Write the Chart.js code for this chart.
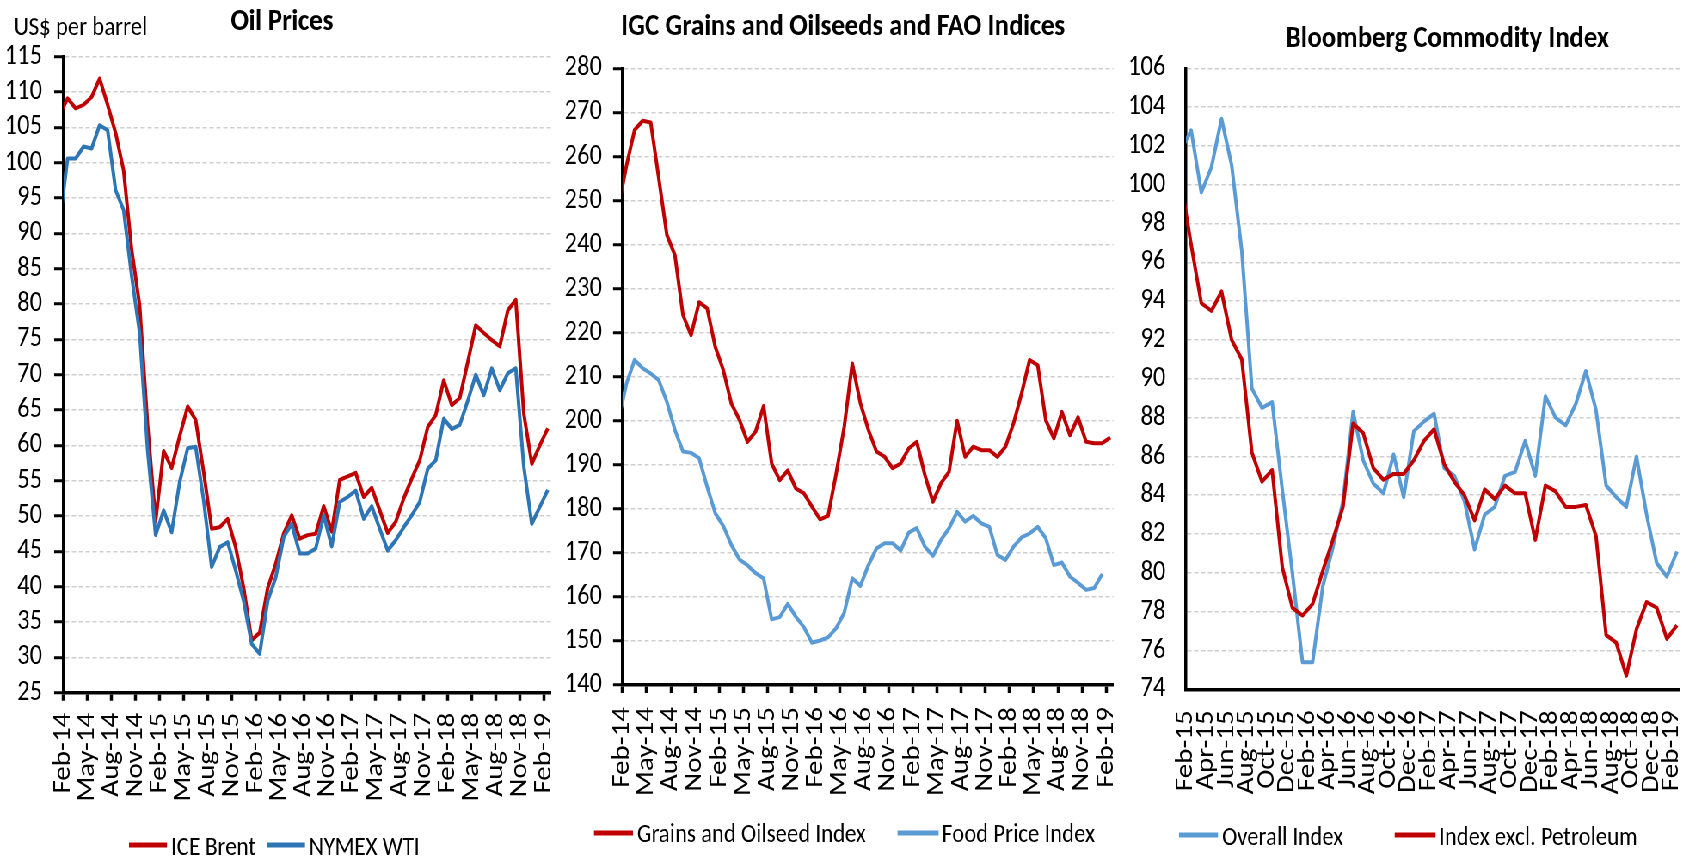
<!DOCTYPE html>
<html>
<head>
<meta charset="utf-8">
<script src="https://cdn.jsdelivr.net/npm/chart.js@4.4.1/dist/chart.umd.min.js"></script>
<style>
  html, body { margin: 0; padding: 0; background: #fff; }
  body { width: 1702px; height: 859px; position: relative; overflow: hidden; }
  /* the original figure is a horizontally squeezed export, so draw wide and squeeze */
  #wrap { position: absolute; left: 0; top: 0; width: 1979px; height: 859px; transform: scaleX(0.86); transform-origin: 0 0; }
  canvas { position: absolute; top: 0; }
</style>
</head>
<body>
<div id="wrap">
  <canvas id="oil" width="651" height="859" style="left:0px;width:651px;height:859px"></canvas>
  <canvas id="grains" width="657" height="859" style="left:651px;width:657px;height:859px"></canvas>
  <canvas id="bcom" width="671" height="859" style="left:1308px;width:671px;height:859px"></canvas>
</div>
<script>
// ---- data (monthly, first entry is the month before the first tick) ----
const oilMonths = ('Jan-14 Feb-14 Mar-14 Apr-14 May-14 Jun-14 Jul-14 Aug-14 Sep-14 Oct-14 Nov-14 Dec-14 ' +
  'Jan-15 Feb-15 Mar-15 Apr-15 May-15 Jun-15 Jul-15 Aug-15 Sep-15 Oct-15 Nov-15 Dec-15 ' +
  'Jan-16 Feb-16 Mar-16 Apr-16 May-16 Jun-16 Jul-16 Aug-16 Sep-16 Oct-16 Nov-16 Dec-16 ' +
  'Jan-17 Feb-17 Mar-17 Apr-17 May-17 Jun-17 Jul-17 Aug-17 Sep-17 Oct-17 Nov-17 Dec-17 ' +
  'Jan-18 Feb-18 Mar-18 Apr-18 May-18 Jun-18 Jul-18 Aug-18 Sep-18 Oct-18 Nov-18 Dec-18 ' +
  'Jan-19 Feb-19').split(' ');

const iceBrent = [
  106.8, 109.1, 107.7, 108.2, 109.3, 111.9, 108.2, 104.2, 98.9, 87.7, 79.8, 62.8,
  49.3, 59.2, 56.8, 61.3, 65.5, 63.6, 56.2, 48.2, 48.4, 49.6, 45.6, 39.8,
  32.4, 33.5, 39.8, 43.2, 47.5, 50.1, 46.8, 47.3, 47.5, 51.4, 47.8, 55.1,
  55.6, 56.1, 52.7, 54.0, 50.8, 47.6, 49.2, 52.5, 55.3, 57.9, 62.6, 64.3,
  69.2, 65.7, 66.7, 71.8, 77.0, 75.9, 74.9, 74.0, 79.1, 80.6, 64.5, 57.4,
  60.0, 62.4
];
const nymexWti = [
  91.5, 100.6, 100.6, 102.3, 102.0, 105.3, 104.6, 96.1, 93.3, 84.0, 75.9, 59.3,
  47.3, 50.8, 47.7, 54.8, 59.6, 59.8, 52.2, 42.8, 45.6, 46.3, 42.3, 38.0,
  31.9, 30.5, 38.0, 41.3, 47.0, 48.9, 44.7, 44.7, 45.4, 50.1, 45.7, 52.0,
  52.7, 53.6, 49.6, 51.4, 48.2, 45.1, 46.6, 48.4, 50.1, 52.0, 56.7, 57.9,
  63.8, 62.3, 62.9, 66.3, 70.0, 67.1, 70.9, 67.8, 70.2, 70.9, 57.0, 48.9,
  51.3, 53.7
];

const grainsOilseed = [
  248.5, 258.0, 266.0, 268.1, 267.7, 255.0, 242.2, 237.6, 224.0, 219.4, 226.9, 225.5,
  216.8, 211.5, 203.9, 200.2, 195.2, 197.5, 203.3, 190.3, 186.5, 188.7, 184.6, 183.5,
  180.5, 177.6, 178.4, 188.0, 198.6, 213.0, 204.0, 197.9, 193.0, 191.8, 189.2, 190.3,
  193.7, 195.2, 187.7, 181.6, 185.8, 188.4, 200.0, 191.8, 194.1, 193.3, 193.3, 191.8,
  194.1, 199.4, 206.2, 213.8, 212.6, 200.1, 196.0, 202.0, 196.7, 200.8, 195.2, 194.9,
  194.9, 196.2
];
const foodPrice = [
  200.1, 208.5, 213.8, 211.9, 210.7, 209.2, 204.3, 197.9, 193.0, 192.7, 191.5, 185.0,
  179.0, 176.1, 171.8, 168.5, 167.2, 165.4, 164.2, 154.9, 155.4, 158.4, 155.5, 153.1,
  149.6, 150.1, 150.8, 152.9, 156.4, 164.2, 162.5, 167.2, 171.0, 172.2, 172.2, 170.5,
  174.6, 175.6, 171.4, 169.3, 172.9, 175.6, 179.3, 177.1, 178.4, 176.7, 175.9, 169.5,
  168.4, 171.4, 173.5, 174.4, 175.9, 173.3, 167.2, 167.8, 164.6, 163.2, 161.6, 162.0,
  165.2
];

const bcomMonths = oilMonths.slice(12);
const bcomOverall = [
  101.8, 102.8, 99.6, 100.9, 103.4, 101.0, 96.6, 89.5, 88.5, 88.8, 84.3, 80.0,
  75.4, 75.4, 79.3, 81.3, 83.7, 88.3, 85.8, 84.6, 84.1, 86.1, 83.9, 87.3,
  87.8, 88.2, 85.4, 85.0, 83.7, 81.2, 83.0, 83.4, 85.0, 85.2, 86.8, 85.0,
  89.1, 88.0, 87.6, 88.7, 90.4, 88.4, 84.5, 83.9, 83.4, 86.0, 83.0, 80.5,
  79.8, 81.1
];
const bcomExPetroleum = [
  100.1, 96.9, 93.9, 93.5, 94.5, 92.0, 91.0, 86.2, 84.7, 85.3, 80.3, 78.2,
  77.8, 78.4, 80.1, 81.7, 83.4, 87.7, 87.2, 85.4, 84.8, 85.1, 85.1, 85.8,
  86.8, 87.4, 85.6, 84.7, 84.0, 82.7, 84.3, 83.8, 84.5, 84.1, 84.1, 81.7,
  84.5, 84.2, 83.4, 83.4, 83.5, 81.9, 76.8, 76.4, 74.7, 77.1, 78.5, 78.2,
  76.6, 77.3
];

// tick labels
const quarterTicks = ['Feb-14', 'May-14', 'Aug-14', 'Nov-14', 'Feb-15', 'May-15', 'Aug-15', 'Nov-15',
  'Feb-16', 'May-16', 'Aug-16', 'Nov-16', 'Feb-17', 'May-17', 'Aug-17', 'Nov-17',
  'Feb-18', 'May-18', 'Aug-18', 'Nov-18', 'Feb-19'];
const bimonthTicks = ['Feb-15', 'Apr-15', 'Jun-15', 'Aug-15', 'Oct-15', 'Dec-15', 'Feb-16', 'Apr-16',
  'Jun-16', 'Aug-16', 'Oct-16', 'Dec-16', 'Feb-17', 'Apr-17', 'Jun-17', 'Aug-17', 'Oct-17', 'Dec-17',
  'Feb-18', 'Apr-18', 'Jun-18', 'Aug-18', 'Oct-18', 'Dec-18', 'Feb-19'];

// ---- styling ----
const S = 0.86; // horizontal squeeze applied to #wrap
const FONT = 'Carlito, Calibri, "Liberation Sans", sans-serif';
const RED = '#C00000';
const BLUE_DARK = '#2E75B6';
const BLUE_LIGHT = '#5B9BD5';
const GRID = '#cfcfcf';

Chart.defaults.color = '#000';
Chart.defaults.font.family = FONT;

// points sit mid-month; index 0 is the month before the first tick (clipped at the axis)
function points(months, values) {
  return values.map((v, i) => ({ x: i - 0.5, y: v, m: months[i] }));
}

function lineSet(label, months, values, color, order) {
  return {
    label: label,
    data: points(months, values),
    borderColor: color,
    backgroundColor: color,
    borderWidth: 4,
    borderJoinStyle: 'round',
    pointRadius: 0,
    tension: 0,
    clip: 0,
    order: order
  };
}

// title, unit label and legend, placed in page coordinates
function decor(d, px) {
  return {
    id: 'decor',
    afterDraw(chart) {
      const ctx = chart.ctx;
      ctx.save();
      ctx.fillStyle = '#000';
      ctx.textBaseline = 'alphabetic';
      ctx.font = 'bold 31px ' + FONT;
      ctx.textAlign = 'center';
      ctx.fillText(d.title, px(d.titleX), d.titleY);
      ctx.textAlign = 'left';
      ctx.font = '26.5px ' + FONT;
      if (d.unit) ctx.fillText(d.unit, px(d.unitX), d.unitY);
      chart.data.datasets.forEach((ds, i) => {
        const it = d.legend[i];
        ctx.strokeStyle = ds.borderColor;
        ctx.lineWidth = 5;
        ctx.beginPath();
        ctx.moveTo(px(it[0]), d.lineY);
        ctx.lineTo(px(it[1]), d.lineY);
        ctx.stroke();
        ctx.fillText(ds.label, px(it[2]), d.textY);
      });
      ctx.restore();
    }
  };
}

function makeChart(id, o) {
  const cv = document.getElementById(id);
  const px = v => (v - o.pageLeft) / S;
  const left = px(o.area.left);
  const right = px(o.area.right);
  return new Chart(cv, {
    type: 'line',
    data: { datasets: o.datasets },
    options: {
      responsive: false,
      animation: false,
      devicePixelRatio: 1,
      layout: { padding: { left: 0, top: o.area.top, right: cv.width - right, bottom: 0 } },
      plugins: { legend: { display: false }, title: { display: false }, tooltip: { enabled: false } },
      scales: {
        x: {
          type: 'linear',
          min: 0,
          max: o.xMax,
          bounds: 'data',
          afterBuildTicks: s => { s.ticks = o.ticks.map((t, i) => ({ value: i * o.tickStep })); },
          afterFit: s => { s.height = cv.height - o.area.bottom; s.paddingLeft = 0; s.paddingRight = 0; },
          grid: { display: true, drawOnChartArea: false, drawTicks: o.xTicks, tickLength: 8, tickWidth: 3.5, tickColor: '#000' },
          border: { display: true, color: '#000', width: 3.5 },
          ticks: {
            autoSkip: false, minRotation: 90, maxRotation: 90, padding: o.xPad,
            font: { family: FONT, size: 29 }, color: '#000',
            callback: (v, i) => o.ticks[i]
          }
        },
        y: {
          type: 'linear',
          min: o.yMin,
          max: o.yMax,
          afterFit: s => { s.width = left; },
          grid: {
            color: c => (c.tick && c.tick.value === o.yMin) ? 'rgba(0,0,0,0)' : GRID,
            lineWidth: 1.5,
            drawTicks: o.yTicks, tickLength: 11, tickWidth: 3, tickColor: '#000'
          },
          border: { display: true, color: '#000', width: 3.5, dash: [5, 3] },
          ticks: { stepSize: o.yStep, autoSkip: false, padding: o.yPad, font: { family: FONT, size: 28.5 }, color: '#000' }
        }
      }
    },
    plugins: [decor(o.decor, px)]
  });
}

makeChart('oil', {
  pageLeft: 0,
  datasets: [
    lineSet('ICE Brent', oilMonths, iceBrent, RED, 1),
    lineSet('NYMEX WTI', oilMonths, nymexWti, BLUE_DARK, 0)
  ],
  area: { left: 63.6, top: 56.7, right: 551, bottom: 692.7 },
  xMax: 60.9, ticks: quarterTicks, tickStep: 3, xTicks: true, xPad: 12,
  yMin: 25, yMax: 115, yStep: 5, yTicks: true, yPad: 14,
  decor: {
    title: 'Oil Prices', titleX: 282, titleY: 30,
    unit: 'US$ per barrel', unitX: 14, unitY: 35,
    lineY: 845, textY: 855,
    legend: [[129, 167, 171], [267, 305, 309]]
  }
});

makeChart('grains', {
  pageLeft: 651 * S,
  datasets: [
    lineSet('Grains and Oilseed Index', oilMonths, grainsOilseed, RED, 1),
    lineSet('Food Price Index', oilMonths, foodPrice, BLUE_LIGHT, 0)
  ],
  area: { left: 622.5, top: 68.3, right: 1113.5, bottom: 685 },
  xMax: 60.9, ticks: quarterTicks, tickStep: 3, xTicks: true, xPad: 14,
  yMin: 140, yMax: 280, yStep: 10, yTicks: true, yPad: 13,
  decor: {
    title: 'IGC Grains and Oilseeds and FAO Indices', titleX: 843, titleY: 35,
    lineY: 833, textY: 842,
    legend: [[594, 633, 637], [897.5, 938.6, 942]]
  }
});

makeChart('bcom', {
  pageLeft: 1308 * S,
  datasets: [
    lineSet('Overall Index', bcomMonths, bcomOverall, BLUE_LIGHT, 1),
    lineSet('Index excl. Petroleum', bcomMonths, bcomExPetroleum, RED, 0)
  ],
  area: { left: 1186.1, top: 68.3, right: 1680, bottom: 689.3 },
  xMax: 48.8, ticks: bimonthTicks, tickStep: 2, xTicks: false, xPad: 21,
  yMin: 74, yMax: 106, yStep: 2, yTicks: false, yPad: 24,
  decor: {
    title: 'Bloomberg Commodity Index', titleX: 1447.5, titleY: 46.7,
    lineY: 835, textY: 845,
    legend: [[1179, 1218, 1222], [1394.7, 1435.5, 1439]]
  }
});
</script>
</body>
</html>
